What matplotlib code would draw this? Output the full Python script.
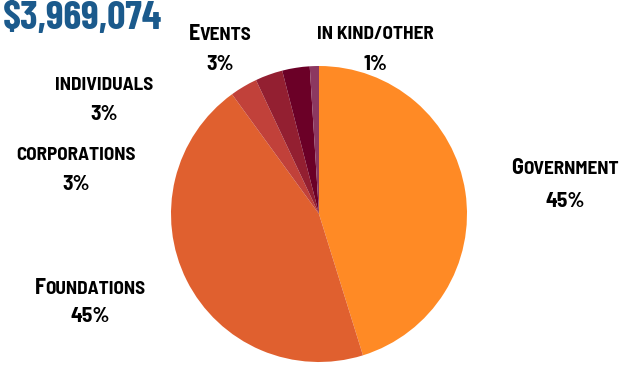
import matplotlib
matplotlib.use("Agg")
import matplotlib.pyplot as plt
from matplotlib.offsetbox import TextArea, HPacker, AnnotationBbox

sources = ["Government", "Foundations", "corporations", "individuals", "Events", "in kind/other"]
shares = [45.2, 44.8, 3.0, 3.0, 3.0, 1.0]
pct_labels = ["45%", "45%", "3%", "3%", "3%", "1%"]
colors = ["#FF8A25", "#E0602F", "#C1413A", "#931F31", "#6B0027", "#8C3860"]
total_label = "$3,969,074"

# label centres in pixels from top-left: (x, name y, percent y)
label_pos = {
    "Government": (565, 170, 201),
    "Foundations": (90, 290, 317),
    "corporations": (76, 157, 184),
    "individuals": (104, 87, 114),
    "Events": (220, 36, 64),
    "in kind/other": (375, 36, 64),
}

W, H = 635, 366
FONT = ["Barlow Semi Condensed", "DejaVu Sans"]
BIG, SMALL, PCT = 16, 13.8, 15.5

fig = plt.figure(figsize=(W / 100, H / 100), dpi=100)
ax = fig.add_axes([171 / W, 4 / H, 296 / W, 296 / H])
ax.pie(shares, colors=colors, startangle=90, counterclock=False, radius=1,
       wedgeprops=dict(linewidth=0))
ax.set_xlim(-1, 1)
ax.set_ylim(-1, 1)
ax.set_aspect("equal")
ax.axis("off")


def small_caps(text):
    parts = []
    run, run_big = "", None
    for ch in text:
        is_big = ch.isupper()
        if run_big is None or is_big == run_big:
            run += ch
            run_big = is_big
        else:
            parts.append((run, run_big))
            run, run_big = ch, is_big
    parts.append((run, run_big))
    boxes = []
    for s, big in parts:
        boxes.append(TextArea(s.upper(), textprops=dict(
            family=FONT, weight="bold", size=BIG if big else SMALL, color="black")))
    return HPacker(children=boxes, pad=0, sep=0, align="baseline")


for name, pct in zip(sources, pct_labels):
    x, yn, yp = label_pos[name]
    ab = AnnotationBbox(small_caps(name), (x / W, 1 - yn / H), xycoords="figure fraction",
                        box_alignment=(0.5, 0.4), frameon=False, pad=0)
    fig.add_artist(ab)
    fig.text(x / W, 1 - yp / H, pct, family=FONT, weight="bold", size=PCT,
             color="black", ha="center", va="center")

fig.text(3 / W, 1 - 18 / H, total_label, family=["Barlow Condensed", "DejaVu Sans"],
         weight="bold", size=29, color="#1B5A8C", ha="left", va="center")

fig.savefig("out.png", dpi=100)
